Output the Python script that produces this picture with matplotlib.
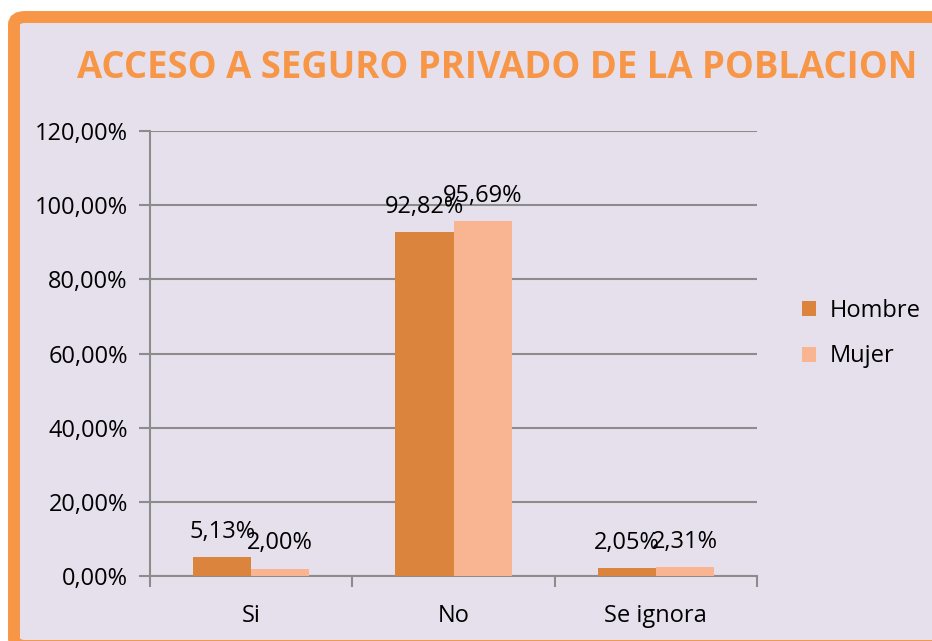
import matplotlib
matplotlib.use("Agg")
import matplotlib.pyplot as plt
from matplotlib.patches import FancyBboxPatch
from matplotlib.ticker import FuncFormatter, FixedLocator
import numpy as np

categories = ["Si", "No", "Se ignora"]
hombre = [5.13, 92.82, 2.05]
mujer = [2.00, 95.69, 2.31]
series_names = ["Hombre", "Mujer"]
title = "ACCESO A SEGURO PRIVADO DE LA POBLACION"

plt.rcParams['font.family'] = ['Open Sans', 'DejaVu Sans']

W, H = 932, 641
fig = plt.figure(figsize=(W/100, H/100), dpi=100)
fig.patch.set_facecolor("white")

bg = "#E6E0EC"
orange = "#F79646"
c_h = "#DA843E"
c_m = "#F9B591"
gridc = "#8C8C8C"

# frame
frame = FancyBboxPatch((14/W, -5/H), 960/W, (641-17+5)/H,
                       boxstyle="round,pad=0,rounding_size=0.012",
                       transform=fig.transFigure, facecolor=bg,
                       edgecolor=orange, linewidth=8.6, zorder=-5)
fig.patches.append(frame)

ax = fig.add_axes([150/W, 1-576/H, (757-150)/W, (576-131)/H])
ax.set_facecolor("none")
ax.set_zorder(2)

x = np.arange(len(categories))
bw = 0.287
b1 = ax.bar(x - bw/2, hombre, bw, color=c_h, label=series_names[0], zorder=3)
b2 = ax.bar(x + bw/2, mujer, bw, color=c_m, label=series_names[1], zorder=3)

fs = 17
for bars, vals in ((b1, hombre), (b2, mujer)):
    for r, v in zip(bars, vals):
        ax.annotate(f"{v:.2f}%".replace(".", ","),
                    (r.get_x() + r.get_width()/2, r.get_height()),
                    xytext=(0, 9.5), textcoords="offset points",
                    ha="center", va="bottom", fontsize=fs, color="black", zorder=5)

ax.set_ylim(0, 120)
ax.set_xlim(-0.5, 2.5)
ax.yaxis.set_major_locator(FixedLocator(np.arange(0, 121, 20)))
ax.yaxis.set_major_formatter(FuncFormatter(lambda v, p: f"{v:.2f}%".replace(".", ",")))
ax.grid(axis="y", color=gridc, linewidth=1.5, zorder=0)
ax.set_axisbelow(True)

ax.set_xticks(x)
ax.set_xticklabels(categories)
ax.set_xticks([-0.5, 0.5, 1.5, 2.5], minor=True)
ax.tick_params(axis="x", which="major", length=0, pad=20, labelsize=fs)
ax.tick_params(axis="x", which="minor", length=8, width=1.5, color=gridc)
ax.tick_params(axis="y", length=8, width=1.5, color=gridc, labelsize=fs, pad=8)

for s in ["top", "right"]:
    ax.spines[s].set_visible(False)
for s in ["left", "bottom"]:
    ax.spines[s].set_color(gridc)
    ax.spines[s].set_linewidth(1.5)

leg = fig.legend(handles=[b1, b2], labels=series_names, loc="upper left",
                 bbox_to_anchor=(781/W, 1-278/H), frameon=False, fontsize=fs,
                 handlelength=0.6, handleheight=0.6, labelspacing=0.9, handletextpad=0.55)

fig.text(497/W, 1-68/H, title, ha="center", va="center", fontsize=26.3,
         fontweight="bold", color=orange)

fig.savefig("out.png", dpi=100, facecolor=fig.get_facecolor())
